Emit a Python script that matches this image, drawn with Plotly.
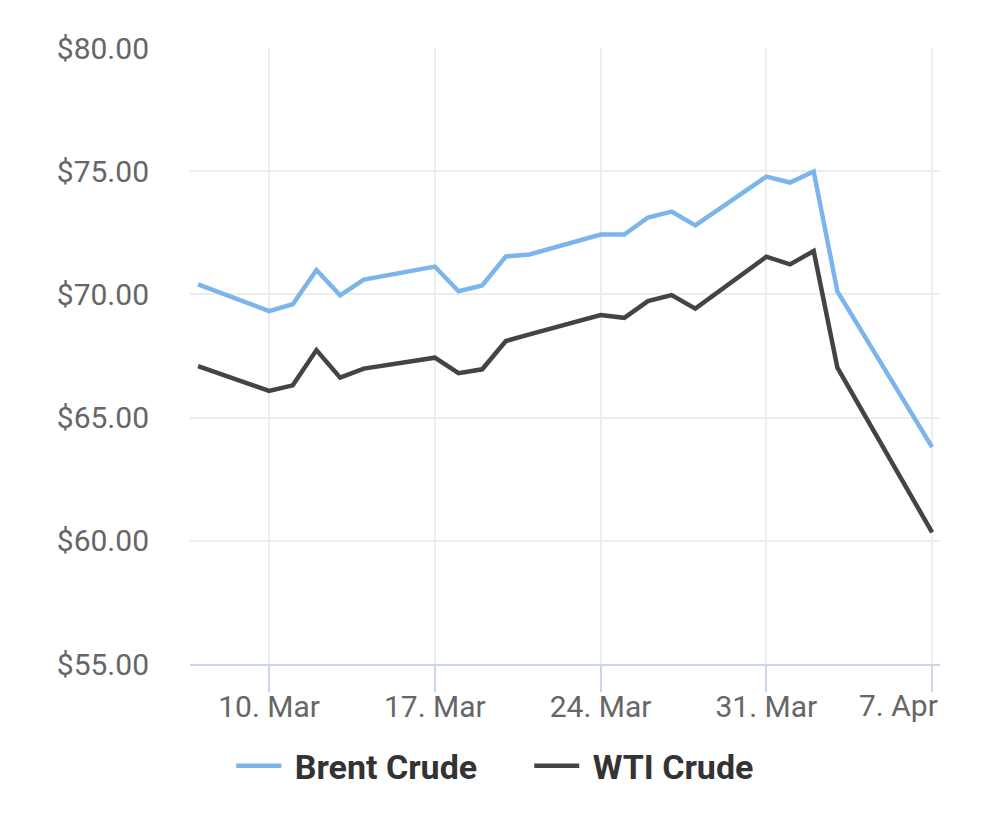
import plotly.graph_objects as go

dates = ["2025-03-07", "2025-03-10", "2025-03-11", "2025-03-12", "2025-03-13", "2025-03-14",
         "2025-03-17", "2025-03-18", "2025-03-19", "2025-03-20", "2025-03-21",
         "2025-03-24", "2025-03-25", "2025-03-26", "2025-03-27", "2025-03-28",
         "2025-03-31", "2025-04-01", "2025-04-02", "2025-04-03", "2025-04-07"]
brent = [70.41, 69.32, 69.60, 70.99, 69.96, 70.60,
         71.13, 70.13, 70.36, 71.54, 71.62,
         72.43, 72.43, 73.12, 73.36, 72.80,
         74.78, 74.54, 74.99, 70.12, 63.80]
wti = [67.09, 66.08, 66.31, 67.74, 66.62, 66.99,
       67.43, 66.80, 66.96, 68.11, 68.38,
       69.16, 69.05, 69.73, 69.97, 69.42,
       71.53, 71.22, 71.76, 67.03, 60.34]
tick_dates = ["2025-03-10", "2025-03-17", "2025-03-24", "2025-03-31", "2025-04-07"]
tick_labels = ["10. Mar", "17. Mar", "24. Mar", "31. Mar", "7. Apr"]
y_ticks = [55, 60, 65, 70, 75, 80]
y_labels = ["$%.2f" % v for v in y_ticks]

fig = go.Figure()
fig.add_trace(go.Scatter(x=dates, y=brent, name="\u00a0Brent Crude", mode="lines",
                         line=dict(color="#7cb5ec", width=4.5)))
fig.add_trace(go.Scatter(x=dates, y=wti, name="\u00a0WTI Crude", mode="lines",
                         line=dict(color="#434348", width=4.5)))

# the last x label is kept inside the plot's right edge, as in the original
x_text = tick_labels[:-1] + [""]

fig.update_layout(
    width=1000, height=839,
    margin=dict(l=190, r=60, t=48, b=175),
    paper_bgcolor="white", plot_bgcolor="white",
    font=dict(family="Roboto", color="#666666", size=30),
    showlegend=True,
    legend=dict(orientation="h", x=0.055, xanchor="left", y=-0.166, yanchor="middle",
                font=dict(family="Roboto", size=34, color="#333333", weight="bold"),
                itemwidth=45, entrywidth=238, entrywidthmode="pixels"),
    xaxis=dict(
        type="date",
        range=["2025-03-06 15:50", "2025-04-07 08:00"],
        tickvals=tick_dates, ticktext=x_text,
        showgrid=True, gridcolor="#ededed", gridwidth=2,
        showline=True, linecolor="#ccd6eb", linewidth=2,
        ticks="outside", ticklen=26, tickcolor="#ccd6eb", tickwidth=2,
        tickfont=dict(size=30, color="#666666"),
        ticklabelstandoff=-11,
        zeroline=False,
    ),
    yaxis=dict(
        range=[55, 80],
        tickvals=y_ticks, ticktext=y_labels,
        showgrid=True, gridcolor="#ededed", gridwidth=2,
        zeroline=False, showline=False,
        ticklabelstandoff=40,
        tickfont=dict(size=30, color="#666666"),
    ),
)

fig.add_annotation(text=tick_labels[-1], xref="paper", yref="paper", x=1.0, y=-0.068,
                   xanchor="right", yanchor="middle", showarrow=False,
                   font=dict(family="Roboto", size=30, color="#666666"))

fig.write_html("out.html")
